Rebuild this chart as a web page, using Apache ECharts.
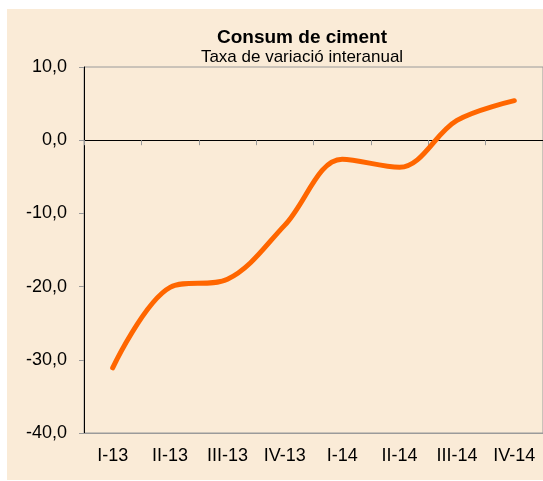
<!DOCTYPE html>
<html>
<head>
<meta charset="utf-8">
<script src="https://cdn.jsdelivr.net/npm/echarts@6/dist/echarts.min.js"></script>
<style>
  html, body { margin: 0; padding: 0; background: #fff; }
  #chart { width: 543px; height: 481px; }
</style>
</head>
<body>
<div id="chart"></div>
<script>
const quarters = ["I-13", "II-13", "III-13", "IV-13", "I-14", "II-14", "III-14", "IV-14"]
const cementRate = [-31.1, -20.1, -19.0, -11.6, -2.6, -3.7, 2.7, 5.4]
const yTicks = { min: -40, max: 10, step: 10 }

const font = "'Liberation Sans', Arial, sans-serif"
const myChart = echarts.init(document.getElementById("chart"))

myChart.setOption({
  backgroundColor: "#ffffff",
  animation: false,
  graphic: [{
    type: "rect",
    z: -10,
    shape: { x: 7, y: 9, width: 536, height: 471 },
    style: { fill: "#FAEBD7" }
  }],
  title: [
    {
      text: "Consum de ciment",
      left: 297,
      top: 23,
      textAlign: "center",
      textStyle: { fontFamily: font, fontSize: 19, fontWeight: "bold", color: "#000" }
    },
    {
      text: "Taxa de variació interanual",
      left: 297,
      top: 44,
      textAlign: "center",
      textStyle: { fontFamily: font, fontSize: 17, fontWeight: "normal", color: "#000" }
    }
  ],
  grid: {
    left: 84,
    right: 0,
    top: 67,
    bottom: 48,
    show: true,
    borderColor: "#9a9a9a",
    borderWidth: 1,
    backgroundColor: "transparent"
  },
  xAxis: [
    {
      type: "category",
      data: quarters,
      boundaryGap: true,
      axisLine: { onZero: true, lineStyle: { color: "#000", width: 1 } },
      axisTick: { show: true, length: 5, lineStyle: { color: "#9a9a9a" } },
      axisLabel: { show: false },
      splitLine: { show: false }
    },
    {
      type: "category",
      data: quarters,
      position: "bottom",
      boundaryGap: true,
      axisLine: { onZero: false, lineStyle: { color: "#9a9a9a", width: 1 } },
      axisTick: { show: false },
      axisLabel: { margin: 14, fontFamily: font, fontSize: 18, color: "#000" },
      splitLine: { show: false }
    }
  ],
  yAxis: {
    type: "value",
    min: yTicks.min,
    max: yTicks.max,
    interval: yTicks.step,
    axisLine: { show: true, lineStyle: { color: "#000", width: 1 } },
    axisTick: { show: true, length: 5, lineStyle: { color: "#9a9a9a" } },
    axisLabel: {
      margin: 17,
      fontFamily: font,
      fontSize: 18,
      color: "#000",
      formatter: (v) => v.toFixed(1).replace(".", ",")
    },
    splitLine: { show: false }
  },
  series: [{
    name: "Consum de ciment",
    type: "line",
    data: cementRate,
    smooth: 0.35,
    showSymbol: false,
    lineStyle: { color: "#FF6600", width: 5, cap: "round" },
    itemStyle: { color: "#FF6600" }
  }]
})
</script>
</body>
</html>
